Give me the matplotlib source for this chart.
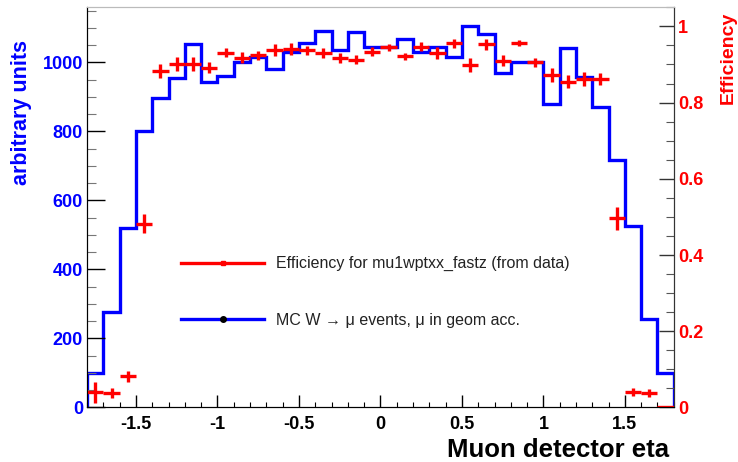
import matplotlib

matplotlib.use("Agg")
import matplotlib.pyplot as plt
import numpy as np
from matplotlib.lines import Line2D

plt.rcParams["font.family"] = ["Liberation Sans", "DejaVu Sans"]

# bin edges of the eta histogram (0.1 wide)
eta_edges = np.round(np.linspace(-1.8, 1.8, 37), 2)
eta_centers = (eta_edges[:-1] + eta_edges[1:]) / 2

# MC W -> mu events (arbitrary units)
mc_counts = [100, 276, 519, 800, 897, 955, 1053, 943, 962, 1001, 1015, 982,
             1030, 1056, 1090, 1037, 1087, 1046, 1046, 1068, 1030, 1046, 1017, 1106,
             1083, 969, 1001, 1001, 880, 1042, 959, 871, 718, 525, 257, 101]

# efficiency from data
eff = [0.040, 0.038, 0.082, 0.482, 0.882, 0.902, 0.902, 0.892, 0.931, 0.918, 0.924, 0.938,
       0.941, 0.937, 0.930, 0.917, 0.912, 0.934, 0.945, 0.921, 0.947, 0.930, 0.956, 0.899,
       0.953, 0.910, 0.956, 0.906, 0.873, 0.855, 0.862, 0.862, 0.497, 0.040, 0.038, 0.0]
eff_err = [0.028, 0.012, 0.015, 0.025, 0.018, 0.018, 0.018, 0.015, 0.012, 0.015, 0.012, 0.015,
           0.015, 0.012, 0.012, 0.012, 0.012, 0.012, 0.010, 0.010, 0.012, 0.015, 0.012, 0.018,
           0.015, 0.015, 0.008, 0.012, 0.018, 0.018, 0.018, 0.015, 0.030, 0.010, 0.010, 0.0]

fig = plt.figure(figsize=(7.38, 4.62), dpi=100)
ax = fig.add_axes([0.118, 0.118, 0.795, 0.867])
ax2 = ax.twinx()

ax.stairs(mc_counts, eta_edges, color="blue", linewidth=2.4)
ax2.errorbar(eta_centers, eff, xerr=0.05, yerr=eff_err, fmt="none",
             ecolor="red", elinewidth=2.4, capsize=0)

ax.set_xlim(-1.8, 1.8)
ax.set_ylim(0, 1161)
ax2.set_ylim(0, 1.051)

ax.set_xticks([-1.5, -1, -0.5, 0, 0.5, 1, 1.5])
ax.set_xticklabels(["-1.5", "-1", "-0.5", "0", "0.5", "1", "1.5"])
ax.set_xticks(np.arange(-1.8, 1.81, 0.1), minor=True)
ax.set_yticks([0, 200, 400, 600, 800, 1000])
ax.set_yticks(np.arange(0, 1151, 50), minor=True)
ax2.set_yticks([0, 0.2, 0.4, 0.6, 0.8, 1])
ax2.set_yticklabels(["0", "0.2", "0.4", "0.6", "0.8", "1"])
ax2.set_yticks(np.arange(0, 1.051, 0.05), minor=True)

ax.tick_params(axis="x", which="major", direction="in", length=8.4, width=1,
               labelsize=13, pad=6, top=False)
ax.tick_params(axis="x", which="minor", direction="in", length=3.6, width=0.8, top=False)
ax.tick_params(axis="y", which="major", direction="in", length=12.7, width=1,
               labelsize=13, labelcolor="blue", pad=3, right=False)
ax.tick_params(axis="y", which="minor", direction="in", length=6.5, width=0.8,
               color="#777777", right=False)
ax2.tick_params(axis="y", which="major", direction="in", length=10.8, width=1,
                labelsize=13, labelcolor="red", pad=3, color="#333333")
ax2.tick_params(axis="y", which="minor", direction="in", length=5.8, width=0.8,
                color="#555555")
for lab in ax.get_xticklabels() + ax.get_yticklabels() + ax2.get_yticklabels():
    lab.set_fontweight("bold")

for a in (ax, ax2):
    a.spines["top"].set_color("#bbbbbb")
    a.spines["right"].set_color("#333333")

ax.set_ylabel("arbitrary units", color="blue", fontsize=15.5, fontweight="bold",
              loc="top")
ax.yaxis.set_label_coords(-0.094, 0.918)
ax2.set_ylabel("Efficiency", color="red", fontsize=14, fontweight="bold",
               loc="top", rotation=90)
ax2.yaxis.set_label_coords(1.078, 0.988)
ax.set_xlabel("Muon detector eta", fontsize=18.5, fontweight="bold", loc="right")
ax.xaxis.set_label_coords(0.992, -0.075)

handles = [
    Line2D([], [], color="red", linewidth=2.4, marker="s", markersize=3,
           markerfacecolor="red", markeredgecolor="red"),
    Line2D([], [], color="blue", linewidth=2.4, marker="o", markersize=4,
           markerfacecolor="black", markeredgecolor="black"),
]
labels = ["Efficiency for mu1wptxx_fastz (from data)",
          "MC W \u2192 \u03bc events, \u03bc in geom acc."]
ax2.legend(handles, labels, loc="center left", bbox_to_anchor=(0.147, 0.288),
           frameon=False, fontsize=11.5, handlelength=5.2, handletextpad=0.75,
           labelspacing=2.6, labelcolor="#222222", borderpad=0)

fig.savefig("out.png", dpi=100)
